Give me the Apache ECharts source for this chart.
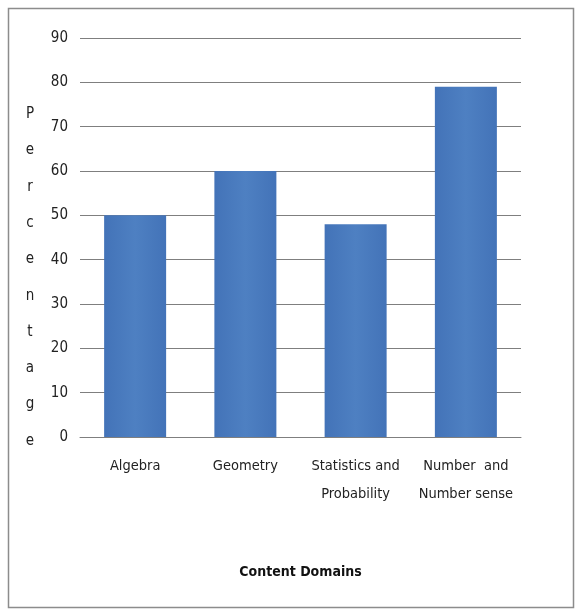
<!DOCTYPE html>
<html>
<head>
<meta charset="utf-8">
<script src="https://cdn.jsdelivr.net/npm/echarts@6/dist/echarts.min.js"></script>
<style>html,body{margin:0;padding:0;background:#fff;}#c{width:577px;height:612px;}</style>
</head>
<body>
<div id="c"></div>
<script>
var categories = ['Algebra', 'Geometry', 'Statistics and\nProbability', 'Number  and\nNumber sense'];
var values = [50, 60, 48, 79];
var yTicks = [0, 10, 20, 30, 40, 50, 60, 70, 80, 90];
var yTitle = 'Percentage';
var xTitle = 'Content Domains';

var font = "'DejaVu Sans Condensed', 'Liberation Sans', sans-serif";
var chart = echarts.init(document.getElementById('c'), null, {renderer: 'canvas'});
chart.setOption({
  animation: false,
  backgroundColor: '#fff',
  graphic: [{
    type: 'rect', left: 6, top: 6,
    shape: {width: 565, height: 599},
    style: {fill: 'none', stroke: '#8c8c8c', lineWidth: 1.5},
    silent: true
  }, {
    type: 'text', x: 30, y: 96,
    style: {
      text: yTitle.split('').join('\n'),
      font: "15px 'DejaVu Sans Condensed', sans-serif",
      fill: '#222', align: 'center', verticalAlign: 'top', lineHeight: 36.3
    },
    silent: true
  }],
  grid: {left: 80, right: 56, top: 38, bottom: 175},
  xAxis: {
    type: 'category',
    data: categories,
    name: xTitle,
    nameLocation: 'middle',
    nameGap: 128,
    nameTextStyle: {fontFamily: font, fontSize: 14, fontWeight: 'bold', color: '#111'},
    axisLine: {show: true, lineStyle: {color: '#7f7f7f', width: 1}},
    axisTick: {show: false},
    axisLabel: {fontFamily: font, fontSize: 14.5, color: '#222', margin: 15, lineHeight: 28, interval: 0}
  },
  yAxis: {
    type: 'value',
    min: yTicks[0],
    max: yTicks[yTicks.length - 1],
    interval: 10,
    axisLine: {show: false},
    axisTick: {show: false},
    axisLabel: {fontFamily: font, fontSize: 15, color: '#222', margin: 12},
    splitLine: {lineStyle: {color: '#7f7f7f', width: 1}}
  },
  series: [{
    type: 'bar',
    data: values,
    barWidth: 62,
    itemStyle: {
      color: new echarts.graphic.LinearGradient(0, 0, 1, 0, [
        {offset: 0, color: '#4373b8'},
        {offset: 0.5, color: '#4e80c2'},
        {offset: 1, color: '#4373b8'}
      ])
    }
  }]
});
</script>
</body>
</html>
